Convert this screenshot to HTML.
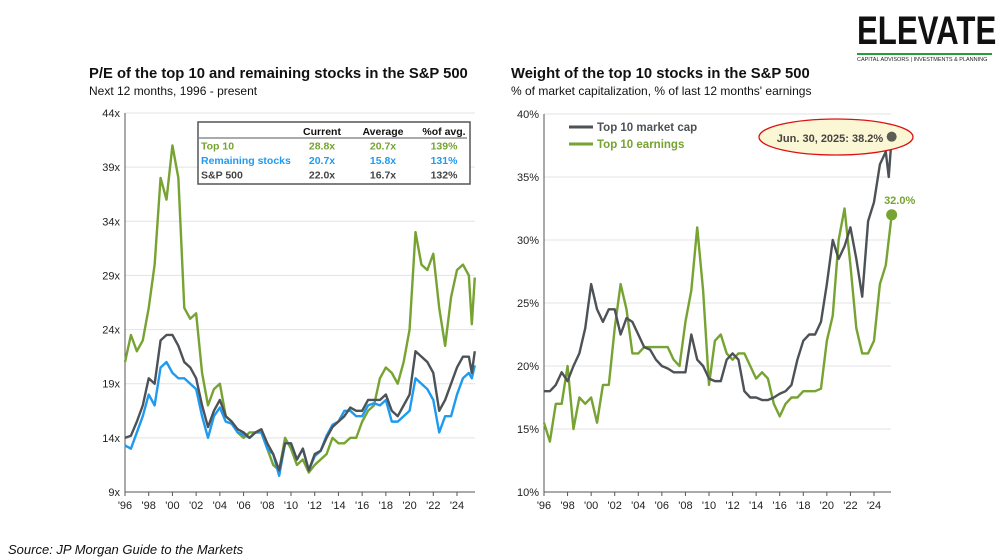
<!DOCTYPE html>
<html><head><meta charset="utf-8"><style>
body{margin:0;width:1000px;height:560px;background:#fff;font-family:"Liberation Sans",sans-serif;overflow:hidden;position:relative}
.t{position:absolute;font-weight:bold;font-size:14.8px;color:#111}
.s{position:absolute;font-size:12px;color:#111}
</style></head><body>
<div style="position:absolute;left:857px;top:12px;width:135px">
<div style="font-family:'Liberation Sans Narrow','Liberation Sans',sans-serif;font-weight:bold;font-size:40px;letter-spacing:0px;color:#111;line-height:38px;transform:scaleX(0.78);transform-origin:left;white-space:nowrap">ELEVATE</div>
<div style="border-top:2px solid #2a9a3a;margin-top:3px;font-size:5.5px;color:#222;padding-top:2px;white-space:nowrap">CAPITAL ADVISORS | INVESTMENTS &amp; PLANNING</div>
</div>
<div class="t" style="left:89px;top:66px">P/E of the top 10 and remaining stocks in the S&amp;P 500</div>
<div class="s" style="left:89px;top:84px">Next 12 months, 1996 - present</div>
<div class="t" style="left:511px;top:66px">Weight of the top 10 stocks in the S&amp;P 500</div>
<div class="s" style="left:511px;top:84px">% of market capitalization, % of last 12 months' earnings</div>
<div style="position:absolute;left:8px;top:542px;font-size:13px;font-style:italic;color:#111">Source: JP Morgan Guide to the Markets</div>
<svg id="svg" width="1000" height="560" style="position:absolute;left:0;top:0"></svg>
<script>
const years=[1996,1996.5,1997,1997.5,1998,1998.5,1999,1999.5,2000,2000.5,2001,2001.5,2002,2002.5,2003,2003.5,2004,2004.5,2005,2005.5,2006,2006.5,2007,2007.5,2008,2008.5,2009,2009.5,2010,2010.5,2011,2011.5,2012,2012.5,2013,2013.5,2014,2014.5,2015,2015.5,2016,2016.5,2017,2017.5,2018,2018.5,2019,2019.5,2020,2020.5,2021,2021.5,2022,2022.5,2023,2023.5,2024,2024.5,2025,2025.25,2025.5];
const peTop10=[21,23.5,22,23,26,30,38,36,41,38,26,25,25.5,20,17,18.5,19,16,15.5,14.5,14,14.5,14.5,14.5,13,11.5,11,14,13,11.5,12,10.8,11.5,12,12.5,14,13.5,13.5,14,14,15.5,16.5,17,19.5,20.5,20,19,21,24,33,30,29.5,31,26,22.5,27,29.5,30,29,24.5,28.8];
const peSP500=[14,14.2,15.5,17,19.5,19,23,23.5,23.5,22.5,21,20.5,19.5,17,15,16.5,17.5,16,15.5,14.8,14.5,14,14.5,14.8,13.5,12.5,11,13.5,13.5,12,13,11,12.5,12.8,14,15,15.5,16,16.8,16.5,16.5,17.5,17.5,17.5,18,16.5,16,17,18,22,21.5,21,20,16.5,17.5,19,20.5,21.5,21.5,20,22];
const peRemaining=[13.3,13,14.5,16,18,17,20.5,21,20,19.5,19.5,19,18.5,16,14,16,16.8,15.5,15.3,14.5,14.3,14,14.5,14.5,13,12.5,10.5,13.5,13.5,12,13,11,12.3,12.8,14.2,15.2,15.5,16.5,16.5,16,16,17,17.2,17,17.5,15.5,15.5,16,16.5,19.5,19,18.5,17.5,14.5,16,16,18,19.5,20,19.5,20.7];
const wMktCap=[18,18,18.5,19.5,18.8,20,21,23,26.5,24.5,23.5,24.5,24.5,22.5,23.8,23.5,22.5,21.5,21.3,20.5,20,19.8,19.5,19.5,19.5,22.5,20.5,20,19,18.8,18.8,20.5,21,20.5,18,17.5,17.5,17.3,17.3,17.5,17.8,18,18.5,20.5,22,22.5,22.5,23.5,26.5,30,28.5,29.5,31,28.5,25.5,31.5,33,36,37,35,38.2];
const wEarnings=[15.5,14,17,17,20,15,17.5,17,17.5,15.5,18.5,18.5,23,26.5,24.5,21,21,21.5,21.5,21.5,21.5,21.5,20.5,20,23.5,26,31,26,18.5,22,22.5,21,20.5,21,21,20,19,19.5,19,17,16,17,17.5,17.5,18,18,18,18.2,22,24,30,32.5,28,23,21,21,22,26.5,28,30,32.0];
const peTicks=[9,14,19,24,29,34,39,44];
const wTicks=[10,15,20,25,30,35,40];
const xTickLabels=["'96","'98","'00","'02","'04","'06","'08","'10","'12","'14","'16","'18","'20","'22","'24"];
const xTickYears=[1996,1998,2000,2002,2004,2006,2008,2010,2012,2014,2016,2018,2020,2022,2024];

const NS='http://www.w3.org/2000/svg',svg=document.getElementById('svg');
function mk(t,a,p){const e=document.createElementNS(NS,t);for(const k in a)e.setAttribute(k,a[k]);(p||svg).appendChild(e);return e;}
function chart(cfg){
  const g=mk('g',{});
  
  
  const X=y=>cfg.x0+(y-1996)*(cfg.x1-cfg.x0)/28;
  const Y=v=>cfg.y1-(v-cfg.vmin)*(cfg.y1-cfg.y0)/(cfg.vmax-cfg.vmin);
  cfg.ticks.forEach(v=>{
    if(v>cfg.vmin){const l=mk('line',{x1:cfg.x0,x2:cfg.xe,y1:Y(v),y2:Y(v),stroke:'#e3e3e3','stroke-width':1},g);
    }
    const t=mk('text',{x:cfg.x0-5,y:Y(v)+4,'text-anchor':'end','font-size':11,fill:'#222'},g);
    
    t.textContent=v+cfg.suf;
  });
  const ax=mk('line',{x1:cfg.x0,x2:cfg.x0,y1:cfg.y0,y2:cfg.y1,stroke:'#555'},g);
  
  const bx=mk('line',{x1:cfg.x0,x2:cfg.xe,y1:cfg.y1,y2:cfg.y1,stroke:'#555'},g);
  
  xTickYears.forEach((yr,i)=>{
    mk('line',{x1:X(yr),x2:X(yr),y1:cfg.y1,y2:cfg.y1+4,stroke:'#555'},g);
    const t=mk('text',{x:X(yr),y:cfg.y1+17,'text-anchor':'middle','font-size':11,fill:'#222'},g);
    
    t.textContent=xTickLabels[i];
  });
  cfg.series.forEach(s=>{
    const p=mk('polyline',{points:years.map((yr,i)=>X(yr)+','+Y(s.d[i])).join(' '),fill:'none',stroke:s.c,'stroke-width':2.4,'stroke-linejoin':'round'},g);
    
  });
  return {X,Y,g};
}
chart({name:'pe-chart',x0:125,x1:457,xe:475,y0:113,y1:492,vmin:9,vmax:44,ticks:peTicks,suf:'x',
  series:[{d:peTop10,c:'#76a331',n:'top10-pe-line'},{d:peRemaining,c:'#1e9bf0',n:'remaining-pe-line'},{d:peSP500,c:'#4d5257',n:'sp500-pe-line'}]});
const R=chart({name:'weight-chart',x0:544,x1:874,xe:891,y0:114,y1:492,vmin:10,vmax:40,ticks:wTicks,suf:'%',
  series:[{d:wEarnings,c:'#76a331',n:'earnings-weight-line'},{d:wMktCap,c:'#4d5257',n:'mktcap-weight-line'}]});
const n=years.length-1;
const d2=mk('circle',{cx:R.X(years[n]),cy:R.Y(wEarnings[n]),r:5.5,fill:'#76a331'});

const l2=mk('text',{x:R.X(years[n])+8,y:R.Y(wEarnings[n])-11,'text-anchor':'middle','font-size':11,'font-weight':'bold',fill:'#76a331'});
l2.textContent=wEarnings[n].toFixed(1)+'%';
const el=mk('ellipse',{cx:836,cy:137,rx:77,ry:18,fill:'#fbf6d4',stroke:'#d11','stroke-width':1.3});

const ct=mk('text',{x:830,y:142,'text-anchor':'middle','font-size':11,'font-weight':'bold',fill:'#444'});
ct.textContent='Jun. 30, 2025: '+wMktCap[n].toFixed(1)+'%';
const d1=mk('circle',{cx:R.X(years[n]),cy:R.Y(wMktCap[n]),r:5,fill:'#5a5f55'});

// legend
[['Top 10 market cap','#4d5257',127],['Top 10 earnings','#76a331',144]].forEach(([t,c,y])=>{
  const g=mk('g',{});
  mk('line',{x1:569,x2:593,y1:y,y2:y,stroke:c,'stroke-width':3},g);
  const tx=mk('text',{x:597,y:y+4,'font-size':11.5,'font-weight':'bold',fill:c},g);tx.textContent=t;
});
// table
const tg=mk('g',{});
mk('rect',{x:198,y:122,width:272,height:62,fill:'#fff',stroke:'#555','stroke-width':1.5},tg);
mk('line',{x1:199,x2:467,y1:138,y2:138,stroke:'#555'},tg);
const rows=[['','Current','Average','%of avg.','#111'],['Top 10','28.8x','20.7x','139%','#76a331'],['Remaining stocks','20.7x','15.8x','131%','#1e9bf0'],['S&P 500','22.0x','16.7x','132%','#444']];
rows.forEach((r,i)=>{const y=135+i*14.5;
  const a=mk('text',{x:201,y,'font-size':10.5,'font-weight':'bold',fill:r[4]},tg);a.textContent=r[0];
  [322,383,444].forEach((x,j)=>{const t=mk('text',{x,y,'font-size':10.5,'font-weight':'bold','text-anchor':'middle',fill:r[4]},tg);t.textContent=r[j+1];});
});
</script>
</body></html>
